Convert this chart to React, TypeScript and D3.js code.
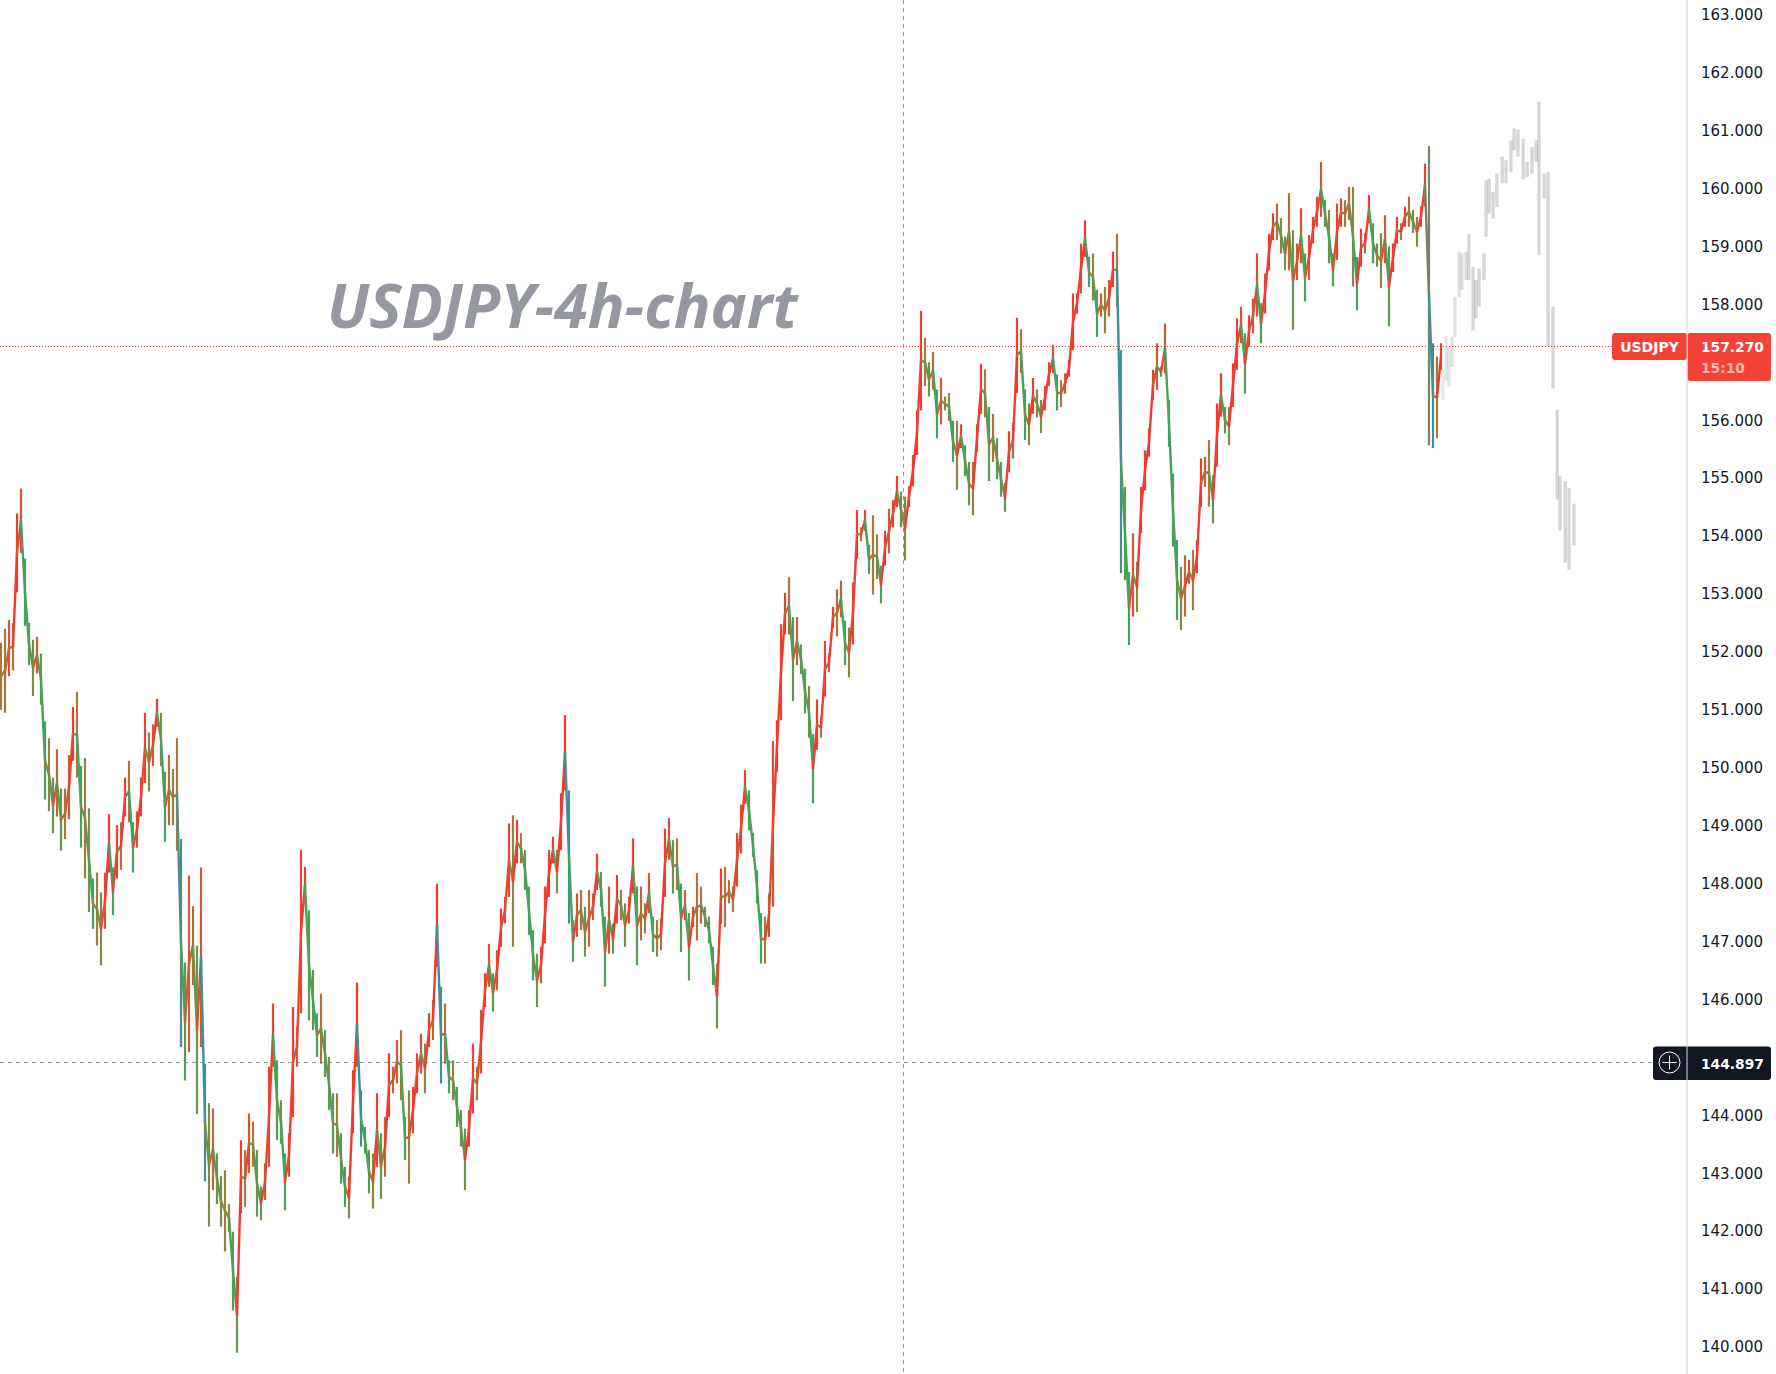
import { useEffect, useRef } from 'react';
import * as d3 from 'd3';

// price columns, left to right
const highs = [
  152.16, 152.40, 152.55, 152.50, 154.39, 154.82, 153.61, 152.50, 152.21, 152.26,
  151.97, 150.80, 150.51, 149.83, 150.32, 149.64, 149.64, 150.22, 151.05, 151.31,
  150.03, 150.17, 149.30, 148.09, 148.19, 147.85, 148.19, 149.20, 148.28, 149.01,
  149.06, 149.83, 150.12, 149.06, 149.25, 149.83, 150.95, 150.61, 150.75, 151.19,
  150.95, 149.93, 150.22, 149.98, 150.51, 148.77, 146.64, 148.14, 147.61, 146.93,
  148.28, 144.89, 144.21, 144.12, 143.34, 142.95, 143.05, 142.47, 141.99, 141.21,
  143.57, 143.40, 144.03, 143.89, 143.40, 142.77, 143.17, 144.84, 145.93, 144.95,
  144.26, 143.34, 143.69, 145.87, 145.53, 148.58, 148.29, 147.54, 146.51, 145.76,
  146.10, 145.47, 145.01, 144.38, 144.38, 143.69, 143.11, 142.94, 144.78, 146.29,
  144.43, 143.80, 143.40, 143.34, 144.38, 143.69, 143.97, 145.07, 144.84, 145.30,
  145.47, 143.97, 144.43, 144.49, 145.07, 145.41, 145.24, 145.76, 145.99, 148.00,
  146.22, 145.93, 144.95, 144.95, 144.49, 144.09, 143.77, 144.09, 145.24, 144.84,
  145.82, 146.45, 146.96, 146.45, 146.85, 147.57, 147.77, 149.04, 149.18, 149.10,
  148.87, 148.58, 147.95, 147.20, 146.79, 146.91, 147.95, 148.58, 148.81, 148.58,
  149.56, 150.91, 149.61, 147.37, 147.83, 147.89, 147.60, 147.89, 147.83, 148.52,
  148.20, 147.43, 147.95, 147.31, 148.15, 147.89, 147.66, 147.77, 148.78, 147.95,
  147.95, 147.66, 148.18, 147.43, 147.37, 147.40, 148.95, 149.13, 148.75, 148.78,
  148.00, 147.89, 147.49, 147.60, 148.18, 147.95, 147.60, 147.43, 146.91, 146.62,
  148.26, 148.29, 148.06, 147.95, 148.87, 149.36, 149.96, 149.61, 148.87, 148.23,
  147.49, 147.43, 147.83, 150.46, 150.82, 152.48, 153.02, 153.29, 152.60, 152.60,
  152.13, 151.71, 151.41, 150.58, 151.18, 150.88, 152.19, 151.98, 152.78, 153.08,
  153.23, 152.54, 152.42, 153.20, 154.45, 154.15, 154.45, 153.85, 154.36, 154.03,
  153.49, 154.09, 154.47, 154.62, 155.04, 154.77, 154.68, 154.86, 155.40, 156.17,
  157.89, 157.42, 157.00, 157.18, 156.53, 156.73, 156.41, 156.47, 155.99, 155.99,
  155.93, 155.57, 155.28, 155.28, 155.93, 156.97, 156.88, 156.23, 156.11, 155.69,
  155.28, 154.92, 155.81, 155.96, 157.77, 157.57, 156.53, 156.29, 156.73, 156.53,
  156.35, 156.59, 157.00, 157.30, 156.79, 156.69, 156.81, 157.04, 158.19, 158.19,
  159.05, 159.45, 158.82, 158.88, 158.25, 158.19, 158.30, 158.42, 158.91, 159.22,
  157.21, 154.85, 153.38, 154.05, 153.56, 154.85, 155.48, 155.86, 156.87, 157.33,
  156.92, 157.67, 156.35, 155.08, 153.93, 153.47, 153.67, 153.59, 153.76, 153.93,
  155.34, 155.37, 155.66, 155.05, 156.29, 156.81, 156.23, 156.23, 156.98, 157.76,
  157.96, 157.50, 157.81, 158.10, 158.88, 158.02, 158.53, 159.22, 159.57, 159.74,
  159.49, 159.17, 159.92, 159.28, 159.05, 159.66, 158.88, 159.20, 159.51, 159.86,
  160.46, 159.80, 159.63, 158.88, 159.74, 159.83, 159.80, 160.03, 160.03, 158.82,
  159.31, 159.23, 159.89, 159.40, 159.05, 159.23, 159.54, 159.00, 159.05, 159.51,
  159.40, 159.69, 159.86, 159.63, 159.51, 159.69, 160.43, 160.73, 157.33, 157.10,
  157.33,
];
const lows = [
  151.00, 150.95, 151.58, 151.68, 153.03, 153.71, 152.45, 151.77, 151.24, 151.63,
  151.09, 149.45, 149.25, 148.87, 149.16, 148.57, 148.77, 149.11, 150.12, 149.83,
  148.62, 148.09, 147.51, 147.22, 146.93, 146.59, 147.22, 148.19, 147.46, 148.09,
  148.24, 149.16, 149.06, 148.19, 148.62, 149.16, 149.74, 149.59, 150.03, 150.71,
  150.03, 148.72, 149.01, 149.01, 148.57, 145.18, 144.60, 145.09, 146.25, 144.02,
  145.18, 142.86, 142.08, 142.71, 142.47, 142.08, 141.65, 141.99, 140.63, 139.90,
  142.31, 142.42, 143.00, 143.11, 142.25, 142.19, 142.54, 143.11, 144.84, 143.57,
  143.51, 142.36, 142.94, 143.97, 144.84, 145.76, 147.66, 145.64, 145.47, 145.01,
  144.89, 144.66, 144.09, 143.34, 143.28, 142.82, 142.42, 142.22, 143.69, 144.84,
  143.46, 143.34, 142.65, 142.39, 143.11, 142.56, 142.94, 143.97, 144.38, 144.55,
  144.26, 143.23, 142.82, 143.69, 144.38, 144.72, 144.38, 145.18, 145.30, 146.56,
  144.55, 144.89, 144.38, 144.26, 143.80, 143.46, 142.71, 143.46, 144.03, 144.26,
  144.72, 145.87, 146.22, 145.79, 146.16, 146.91, 147.31, 147.77, 146.91, 148.35,
  148.35, 147.89, 147.11, 146.33, 145.87, 146.28, 146.97, 147.77, 148.35, 147.83,
  148.58, 149.61, 147.31, 146.65, 147.08, 147.20, 146.74, 146.91, 147.37, 147.89,
  147.60, 146.22, 146.79, 146.79, 147.31, 147.37, 146.91, 147.31, 147.83, 146.59,
  147.02, 147.14, 147.49, 146.82, 146.74, 146.85, 147.77, 148.41, 147.83, 147.89,
  146.82, 147.37, 146.33, 147.25, 147.02, 147.31, 147.25, 146.97, 146.25, 145.50,
  147.31, 147.25, 147.66, 147.51, 147.95, 148.52, 149.38, 148.92, 148.46, 147.66,
  146.62, 146.62, 147.08, 147.60, 149.93, 150.82, 152.30, 152.30, 151.15, 151.77,
  151.62, 150.94, 150.52, 149.39, 150.31, 150.52, 151.23, 151.65, 152.42, 152.27,
  152.60, 151.77, 151.56, 152.13, 153.61, 153.91, 154.09, 153.35, 152.99, 153.26,
  152.84, 153.49, 153.70, 154.15, 154.50, 154.15, 153.58, 154.50, 154.86, 155.40,
  156.17, 156.59, 156.41, 156.53, 155.69, 155.93, 156.17, 155.99, 155.28, 154.80,
  155.52, 155.04, 154.53, 154.36, 155.46, 156.11, 156.05, 154.95, 155.28, 154.98,
  154.68, 154.42, 155.10, 155.34, 156.47, 156.82, 155.66, 155.57, 156.11, 156.05,
  155.78, 156.17, 156.59, 156.82, 156.17, 156.23, 156.46, 156.75, 157.21, 157.84,
  158.19, 158.82, 158.30, 158.07, 157.44, 157.79, 157.50, 157.79, 158.30, 157.96,
  153.36, 153.24, 152.12, 152.61, 152.69, 154.05, 154.79, 155.37, 156.35, 156.52,
  156.75, 156.81, 155.54, 153.82, 152.55, 152.38, 152.61, 153.18, 152.72, 153.36,
  154.51, 154.85, 154.51, 154.22, 155.20, 156.06, 155.77, 155.57, 156.23, 156.87,
  157.33, 156.46, 157.27, 157.50, 157.79, 157.33, 157.84, 158.59, 159.11, 159.11,
  158.88, 158.59, 158.59, 157.56, 158.42, 158.71, 158.05, 158.42, 159.05, 159.34,
  159.51, 159.34, 158.71, 158.31, 158.77, 159.34, 159.34, 159.46, 158.31, 157.90,
  158.65, 158.88, 159.40, 158.71, 158.65, 158.28, 158.71, 157.62, 158.56, 159.05,
  159.11, 159.34, 159.34, 159.23, 159.00, 159.34, 159.69, 155.57, 155.52, 155.69,
  156.87,
];

// the faded grey projection on the right: time slot, high, low
const ghostSlots = [
  0, 1.7, 2.6, 3.4, 4.3, 5.1, 6.3, 7.1, 8.3, 9.1,
  10.3, 11.1, 12, 13.4, 14, 14.9, 16, 17.1, 18.6, 19.7,
  21.1, 22, 23.1, 24.6, 25.7, 27.1, 28.3, 29.1, 30.6, 31.7,
  33.1, 34.3, 35.1, 36.6, 37.7, 39.1,
];
const ghostHighs = [
  156.98, 156.86, 157.44, 157.27, 157.44, 158.13, 158.91, 158.88, 158.91, 159.22,
  158.65, 158.42, 158.62, 158.88, 160.14, 160.17, 159.94, 160.26, 160.55, 160.49,
  160.83, 161.04, 161.02, 160.86, 160.46, 160.72, 160.83, 161.50, 160.26, 160.29,
  157.96, 156.18, 155.03, 154.95, 154.83, 154.56,
];
const ghostLows = [
  156.66, 156.35, 156.69, 156.58, 156.92, 157.44, 158.13, 158.25, 158.42, 158.42,
  157.55, 157.76, 157.96, 158.42, 159.17, 159.57, 159.48, 159.68, 160.09, 160.09,
  160.29, 160.66, 160.55, 160.16, 160.20, 160.26, 160.46, 158.85, 159.83, 157.27,
  156.55, 154.63, 154.10, 153.54, 153.42, 153.84,
];

// 145 and 157 sit behind the crosshair and last price tags
const priceTicks = d3.range(140, 164).filter((v) => v !== 145 && v !== 157);
const lastPrice = 157.27;
const crossPrice = 144.897;

const WIDTH = 1776;
const HEIGHT = 1374;
const AXIS_X = 1687;
const RED = '#f23b30';
const GREEN = '#43a35a';
const BROWN = '#a67a3c';
const TEAL = '#3f8f98';
const FONT = '"DejaVu Sans", sans-serif';

export default function App() {
  const axisRef = useRef<SVGGElement>(null);

  const y = d3.scaleLinear().domain([140, 163]).range([1347, 14.8]);
  const x = d3.scaleLinear().domain([0, highs.length - 1]).range([1, 1441]);
  const gx = d3.scaleLinear().domain([0, 39.1]).range([1437, 1574]);
  const ghostFade = d3.scaleLinear().domain([0, 10]).range([0.07, 0.16]).clamp(true);
  const mids = highs.map((h, i) => (h + lows[i]) / 2);
  const crossY = Math.round(y(crossPrice)) - 0.5;
  const lastY = Math.round(y(lastPrice)) - 0.5;

  const colorOf = (i: number) => {
    const move = i === 0 ? 0 : mids[i] - mids[i - 1];
    const t = Math.min(1, Math.abs(move) / (highs[i] - lows[i]) * 1.2);
    const dir = move >= 0 ? RED : Math.abs(move) > 1.5 ? TEAL : GREEN;
    return d3.interpolateRgb(BROWN, dir)(t);
  };

  useEffect(() => {
    if (!axisRef.current) return;
    const g = d3.select(axisRef.current);
    g.selectAll('*').remove();
    g.call(d3.axisRight(y).tickValues(priceTicks).tickSize(0).tickPadding(14).tickFormat((v) => d3.format('.3f')(v as number)));
    g.select('.domain').remove();
    g.selectAll('text').attr('font-family', FONT).attr('font-size', 15).attr('fill', '#131722');
  }, []);

  return (
    <svg width={WIDTH} height={HEIGHT} style={{ position: 'absolute', left: 0, top: 0, background: '#fff' }}>
      <text x={327} y={328} fontFamily='"Open Sans", sans-serif' fontWeight={700} fontStyle="italic" fontSize={61} fill="#9598a1">
        USDJPY-4h-chart
      </text>

      {/* crosshair and last price line */}
      <line x1={903.5} x2={903.5} y1={0} y2={HEIGHT} stroke="#9598a1" strokeDasharray="4 4" />
      <line x1={0} x2={1653} y1={crossY} y2={crossY} stroke="#9598a1" strokeDasharray="4 4" />
      <line x1={0} x2={1612} y1={lastY} y2={lastY} stroke={RED} strokeDasharray="1 2" />

      {/* ghost bars */}
      {ghostHighs.map((h, i) => (
        <rect key={i} x={gx(ghostSlots[i]) - 1.7} width={3.4} y={y(h)} height={y(ghostLows[i]) - y(h)} fill="#000" fillOpacity={ghostFade(ghostSlots[i])} />
      ))}

      {/* price bars */}
      {highs.map((h, i) => (
        <line key={i} x1={x(i)} x2={x(i)} y1={y(h)} y2={y(lows[i])} stroke={colorOf(i)} strokeWidth={2.2} />
      ))}
      {mids.slice(1).map((m, i) => (
        <line key={i} x1={x(i)} x2={x(i + 1)} y1={y(mids[i])} y2={y(m)} stroke={colorOf(i + 1)} strokeWidth={2.4} strokeLinecap="round" />
      ))}

      {/* price tags */}
      <rect x={1612} y={333} width={75} height={27} rx={3} fill="#f44336" />
      <text x={1649.5} y={352} textAnchor="middle" fontFamily={FONT} fontSize={14} fontWeight={700} fill="#fff">USDJPY</text>
      <rect x={1687.5} y={333} width={83.5} height={48} rx={3} fill="#f44336" />
      <text x={1701} y={352} fontFamily={FONT} fontSize={13.8} fontWeight={700} fill="#fff">157.270</text>
      <text x={1701} y={373} fontFamily={FONT} fontSize={13.8} fontWeight={700} fill="#fff" fillOpacity={0.65}>15:10</text>

      <rect x={1653} y={1046.5} width={118} height={33.5} rx={3} fill="#131722" />
      <circle cx={1669.5} cy={crossY} r={10.5} fill="none" stroke="#fff" />
      <path d={`M1662.5 ${crossY}h14M1669.5 ${crossY - 7}v14`} stroke="#fff" />
      <text x={1701} y={1068.5} fontFamily={FONT} fontSize={13.8} fontWeight={700} fill="#fff">144.897</text>

      <line x1={AXIS_X} x2={AXIS_X} y1={0} y2={HEIGHT} stroke="#d1d4dc" />
      <g ref={axisRef} transform={`translate(${AXIS_X},0)`} />
    </svg>
  );
}
